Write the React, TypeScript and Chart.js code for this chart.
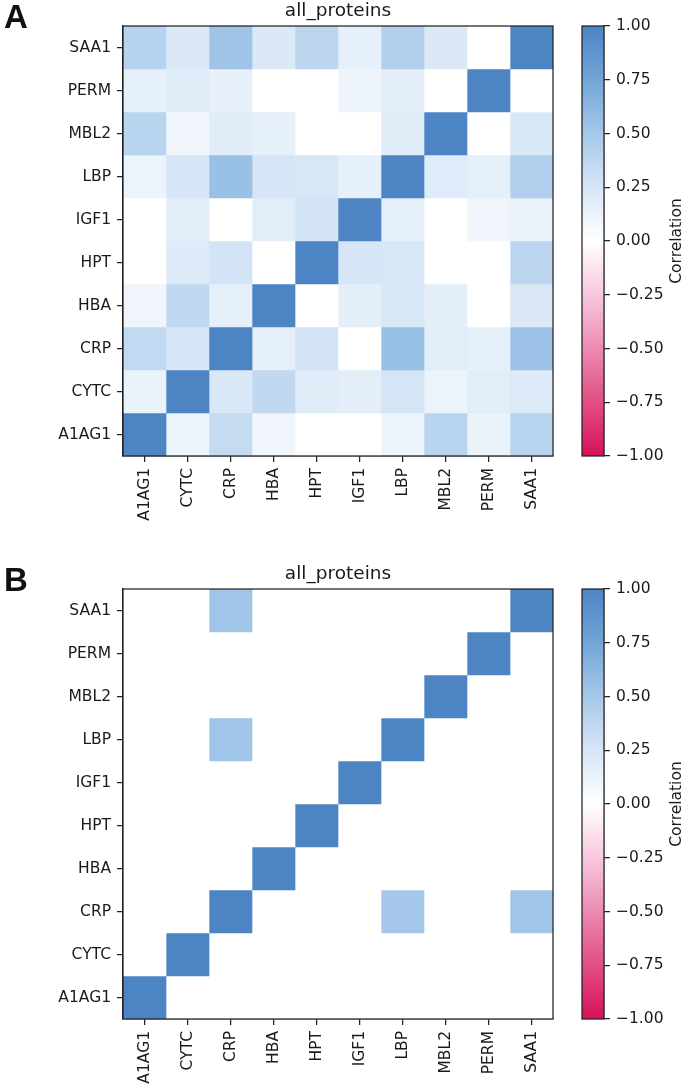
import React, { useEffect, useRef } from "react";
import { Chart, registerables } from "chart.js";

Chart.register(...registerables);

// ---------- data ----------
const PROTEINS = ["A1AG1", "CYTC", "CRP", "HBA", "HPT", "IGF1", "LBP", "MBL2", "PERM", "SAA1"];

// rows follow PROTEINS (A1AG1 at bottom ... SAA1 at top), columns follow PROTEINS (left to right)
const CORR_ALL = [
  /* A1AG1 */ [1.0, 0.12, 0.34, 0.09, 0.0, 0.0, 0.12, 0.40, 0.13, 0.41],
  /* CYTC  */ [0.13, 1.0, 0.23, 0.36, 0.19, 0.17, 0.26, 0.12, 0.18, 0.21],
  /* CRP   */ [0.35, 0.25, 1.0, 0.15, 0.27, 0.0, 0.56, 0.18, 0.15, 0.54],
  /* HBA   */ [0.10, 0.37, 0.15, 1.0, 0.0, 0.17, 0.24, 0.17, 0.0, 0.22],
  /* HPT   */ [0.0, 0.21, 0.27, 0.0, 1.0, 0.25, 0.24, 0.0, 0.0, 0.38],
  /* IGF1  */ [0.0, 0.18, 0.0, 0.18, 0.27, 1.0, 0.16, 0.0, 0.10, 0.13],
  /* LBP   */ [0.12, 0.25, 0.56, 0.25, 0.24, 0.15, 1.0, 0.20, 0.16, 0.44],
  /* MBL2  */ [0.40, 0.09, 0.19, 0.15, 0.0, 0.0, 0.19, 1.0, 0.0, 0.23],
  /* PERM  */ [0.15, 0.19, 0.14, 0.0, 0.0, 0.11, 0.17, 0.0, 1.0, 0.0],
  /* SAA1  */ [0.42, 0.22, 0.53, 0.22, 0.38, 0.15, 0.44, 0.22, 0.0, 1.0],
];

const CORR_SIGNIFICANT = [
  /* A1AG1 */ [1.0, 0, 0, 0, 0, 0, 0, 0, 0, 0],
  /* CYTC  */ [0, 1.0, 0, 0, 0, 0, 0, 0, 0, 0],
  /* CRP   */ [0, 0, 1.0, 0, 0, 0, 0.50, 0, 0, 0.52],
  /* HBA   */ [0, 0, 0, 1.0, 0, 0, 0, 0, 0, 0],
  /* HPT   */ [0, 0, 0, 0, 1.0, 0, 0, 0, 0, 0],
  /* IGF1  */ [0, 0, 0, 0, 0, 1.0, 0, 0, 0, 0],
  /* LBP   */ [0, 0, 0.52, 0, 0, 0, 1.0, 0, 0, 0],
  /* MBL2  */ [0, 0, 0, 0, 0, 0, 0, 1.0, 0, 0],
  /* PERM  */ [0, 0, 0, 0, 0, 0, 0, 0, 1.0, 0],
  /* SAA1  */ [0, 0, 0.52, 0, 0, 0, 0, 0, 0, 1.0],
];

const COLORBAR_TICKS = [-1, -0.75, -0.5, -0.25, 0, 0.25, 0.5, 0.75, 1];
const CMAP_STOPS = [-1, -0.75, -0.5, -0.25, 0, 0.25, 0.5, 0.75, 1];
const CMAP_COLORS: number[][] = [
  [214, 16, 90],
  [226, 78, 132],
  [236, 138, 177],
  [247, 200, 222],
  [255, 255, 255],
  [214, 230, 246],
  [165, 200, 234],
  [114, 165, 215],
  [76, 132, 196],
];

const TITLE = "all_proteins";
const CBAR_LABEL = "Correlation";

// ---------- helpers ----------
const FONT = "'DejaVu Sans', sans-serif";
const TEXT = "#1a1a1a";
const AXIS = "#222222";

function cmap(v: number): string {
  const x = Math.max(-1, Math.min(1, v));
  for (let i = 0; i < CMAP_STOPS.length - 1; i++) {
    const a = CMAP_STOPS[i];
    const b = CMAP_STOPS[i + 1];
    if (x >= a && x <= b) {
      const t = (x - a) / (b - a);
      const c0 = CMAP_COLORS[i];
      const c1 = CMAP_COLORS[i + 1];
      const c = c0.map((k, j) => Math.round(k + (c1[j] - k) * t));
      return `rgb(${c[0]},${c[1]},${c[2]})`;
    }
  }
  return "rgb(255,255,255)";
}

const rgb = (c: number[]) => `rgb(${c[0]},${c[1]},${c[2]})`;

const fmtTick = (v: number) => {
  const s = Math.abs(v).toFixed(2);
  return v < 0 ? "\u2212" + s : s;
};

const framePlugin = {
  id: "frame",
  afterDatasetsDraw(chart: any) {
    const { ctx, chartArea } = chart;
    ctx.save();
    ctx.strokeStyle = AXIS;
    ctx.lineWidth = 1.25;
    ctx.strokeRect(chartArea.left, chartArea.top, chartArea.right - chartArea.left, chartArea.bottom - chartArea.top);
    ctx.restore();
  },
};

const titlePlugin = {
  id: "areaTitle",
  afterDraw(chart: any) {
    const { ctx, chartArea } = chart;
    ctx.save();
    ctx.fillStyle = TEXT;
    ctx.font = `18.5px ${FONT}`;
    ctx.textAlign = "center";
    ctx.textBaseline = "alphabetic";
    ctx.fillText(TITLE, (chartArea.left + chartArea.right) / 2, chartArea.top - 10);
    ctx.restore();
  },
};

const CANVAS_W = 560;
const CANVAS_H = 540;
const AREA_LEFT = 123;
const AREA_TOP = 26;
const AREA_BOTTOM = 456;

function Heatmap({ matrix }: { matrix: number[][] }) {
  const ref = useRef<HTMLCanvasElement | null>(null);
  useEffect(() => {
    if (!ref.current) return;
    const datasets = PROTEINS.map((col, c) => ({
      label: col,
      data: PROTEINS.map(() => [c - 0.5, c + 0.5]),
      backgroundColor: PROTEINS.map((_, r) => cmap(matrix[r][c])),
      borderWidth: 0,
      barPercentage: 1,
      categoryPercentage: 1,
      grouped: false,
    }));
    const tickFont = { family: FONT, size: 15.5 };
    const chart = new Chart(ref.current, {
      type: "bar",
      data: { labels: PROTEINS, datasets: datasets as any },
      options: {
        indexAxis: "y",
        animation: false,
        responsive: false,
        events: [],
        layout: { padding: { left: 0, right: CANVAS_W - 553, top: AREA_TOP, bottom: 0 } },
        plugins: {
          legend: { display: false },
          tooltip: { enabled: false },
          title: { display: false },
        },
        scales: {
          x: {
            type: "linear",
            min: -0.5,
            max: 9.5,
            afterBuildTicks: (s: any) => {
              s.ticks = PROTEINS.map((_, i) => ({ value: i }));
            },
            ticks: {
              callback: (v: any) => PROTEINS[Math.round(Number(v))],
              autoSkip: false,
              minRotation: 90,
              maxRotation: 90,
              font: tickFont,
              color: TEXT,
              padding: 6,
            },
            grid: { display: true, drawOnChartArea: false, drawTicks: true, tickLength: 6, color: AXIS, lineWidth: 1.25 },
            border: { display: true, color: AXIS, width: 1.25 },
            afterFit: (s: any) => {
              s.height = CANVAS_H - AREA_BOTTOM;
            },
          },
          y: {
            type: "category",
            reverse: true,
            offset: true,
            ticks: { font: tickFont, color: TEXT, padding: 6, autoSkip: false },
            grid: { display: true, offset: false, drawOnChartArea: false, drawTicks: true, tickLength: 6, color: AXIS, lineWidth: 1.25 },
            border: { display: true, color: AXIS, width: 1.25 },
            afterFit: (s: any) => {
              s.width = AREA_LEFT;
            },
          },
        },
      } as any,
      plugins: [framePlugin, titlePlugin],
    });
    return () => chart.destroy();
  }, [matrix]);
  return <canvas ref={ref} width={CANVAS_W} height={CANVAS_H} style={{ display: "block", width: CANVAS_W, height: CANVAS_H }} />;
}

const CB_W = 125;

function Colorbar() {
  const ref = useRef<HTMLCanvasElement | null>(null);
  useEffect(() => {
    if (!ref.current) return;
    const labelPlugin = {
      id: "cbarLabel",
      afterDraw(chart: any) {
        const { ctx, chartArea } = chart;
        ctx.save();
        ctx.fillStyle = TEXT;
        ctx.font = `15.5px ${FONT}`;
        ctx.textAlign = "center";
        ctx.textBaseline = "middle";
        ctx.translate(chartArea.right + 73, (chartArea.top + chartArea.bottom) / 2);
        ctx.rotate(-Math.PI / 2);
        ctx.fillText(CBAR_LABEL, 0, 0);
        ctx.restore();
      },
    };
    const chart = new Chart(ref.current, {
      type: "bar",
      data: {
        labels: [""],
        datasets: [
          {
            data: [[-1, 1]] as any,
            backgroundColor: (c: any) => {
              const ch = c.chart;
              const ys = ch.scales?.y;
              if (!ch.chartArea || !ys) return "#ffffff";
              const g = ch.ctx.createLinearGradient(0, ys.getPixelForValue(-1), 0, ys.getPixelForValue(1));
              CMAP_STOPS.forEach((v, i) => g.addColorStop((v + 1) / 2, rgb(CMAP_COLORS[i])));
              return g;
            },
            borderWidth: 0,
            barPercentage: 1,
            categoryPercentage: 1,
          },
        ],
      },
      options: {
        animation: false,
        responsive: false,
        events: [],
        layout: { padding: { left: 582 - CANVAS_W, right: 0, top: AREA_TOP, bottom: CANVAS_H - AREA_BOTTOM } },
        plugins: { legend: { display: false }, tooltip: { enabled: false }, title: { display: false } },
        scales: {
          x: { display: false },
          y: {
            position: "right",
            min: -1,
            max: 1,
            afterBuildTicks: (s: any) => {
              s.ticks = COLORBAR_TICKS.map((v) => ({ value: v }));
            },
            ticks: { callback: (v: any) => fmtTick(Number(v)), font: { family: FONT, size: 15.5 }, color: TEXT, padding: 6 },
            grid: { display: true, drawOnChartArea: false, drawTicks: true, tickLength: 6, color: AXIS, lineWidth: 1.25 },
            border: { display: true, color: AXIS, width: 1.25 },
            afterFit: (s: any) => {
              s.width = CB_W - (604 - CANVAS_W);
            },
          },
        },
      } as any,
      plugins: [framePlugin, labelPlugin],
    });
    return () => chart.destroy();
  }, []);
  return <canvas ref={ref} width={CB_W} height={CANVAS_H} style={{ display: "block", width: CB_W, height: CANVAS_H }} />;
}

function Panel({ letter, matrix, top }: { letter: string; matrix: number[][]; top: number }) {
  return (
    <div style={{ position: "absolute", left: 0, top, width: 685, height: CANVAS_H }}>
      <div style={{ position: "absolute", left: 0, top: 0 }}>
        <Heatmap matrix={matrix} />
      </div>
      <div style={{ position: "absolute", left: CANVAS_W, top: 0 }}>
        <Colorbar />
      </div>
      <div
        style={{
          position: "absolute",
          left: 4,
          top: 0,
          fontFamily: "'Liberation Sans', Arial, sans-serif",
          fontWeight: "bold",
          fontSize: 33,
          lineHeight: 1,
          color: "#111",
        }}
      >
        {letter}
      </div>
    </div>
  );
}

export default function App() {
  return (
    <div style={{ position: "absolute", left: 0, top: 0, width: 685, height: 1086, background: "#fff" }}>
      <Panel letter="A" matrix={CORR_ALL} top={0} />
      <Panel letter="B" matrix={CORR_SIGNIFICANT} top={563} />
    </div>
  );
}
